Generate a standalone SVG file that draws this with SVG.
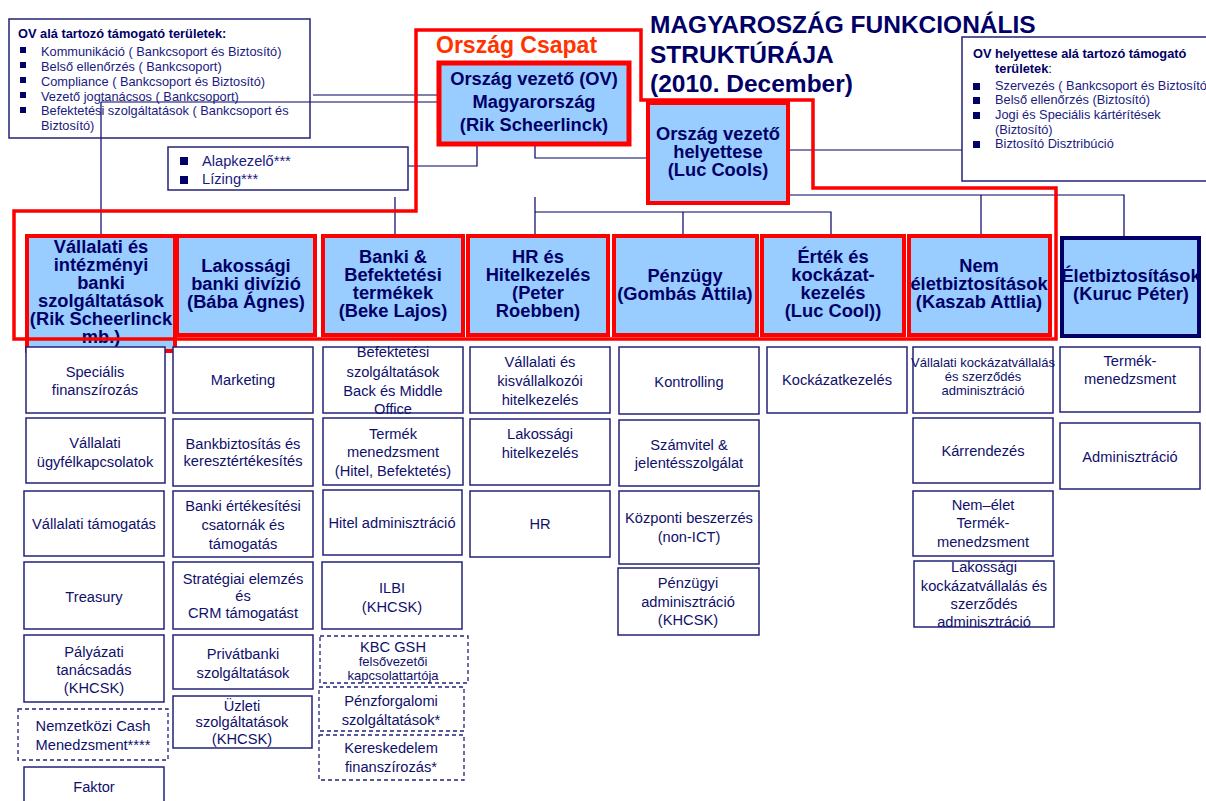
<svg xmlns="http://www.w3.org/2000/svg" width="1206" height="801" viewBox="0 0 1206 801">
<style>
.hb{fill:#99ccff;stroke:#ff0000;stroke-width:4}
.hbn{fill:#99ccff;stroke:#000066;stroke-width:4}
.ht{font-family:"Liberation Sans",Arial,sans-serif;font-weight:bold;font-size:18.3px;fill:#000066;text-anchor:middle}
.cell{fill:#ffffff;stroke:#23237a;stroke-width:1.5}
.dash{fill:#ffffff;stroke:#23237a;stroke-width:1.3;stroke-dasharray:4 3}
.ct{font-family:"Liberation Sans",Arial,sans-serif;font-size:14.67px;fill:#10106b;text-anchor:middle}
.cs{font-family:"Liberation Sans",Arial,sans-serif;font-size:13px;fill:#10106b;text-anchor:middle}
.ln{stroke:#000066;stroke-width:1.2;fill:none}
.box{fill:none;stroke:#23237a;stroke-width:1.5}
.st{font-family:"Liberation Sans",Arial,sans-serif;font-size:12.8px;fill:#1a1a80}
.stb{font-family:"Liberation Sans",Arial,sans-serif;font-size:12.8px;font-weight:bold;fill:#000066}
.bul{fill:#000066}
.title{font-family:"Liberation Sans",Arial,sans-serif;font-weight:bold;font-size:24.5px;fill:#000066}
</style>
<rect width="1206" height="801" fill="#ffffff"/>

<g id="connectors">
<path class="ln" d="M313,95 H438"/>
<path class="ln" d="M101,102 H438"/>
<path class="ln" d="M101,102 V236"/>
<path class="ln" d="M408,166 H477 V142"/>
<path class="ln" d="M535,144 V158 H648"/>
<path class="ln" d="M788,150 H962"/>
<path class="ln" d="M788,195 H1124 V237"/>
<path class="ln" d="M981,195 V236"/>
<path class="ln" d="M395,197 V236"/>
<path class="ln" d="M535,197 V236"/>
<path class="ln" d="M535,212 H831 V236"/>
<path class="ln" d="M683,212 V236"/>
</g>

<g id="title">
<text class="title" x="650" y="33">MAGYAROSZÁG FUNKCIONÁLIS</text>
<text class="title" x="650" y="63">STRUKTÚRÁJA</text>
<text class="title" x="650" y="92">(2010. December)</text>
</g>

<g id="ov-support">
<rect class="box" x="9" y="19" width="301" height="119"/>
<text class="stb" x="18" y="38">OV alá tartozó támogató területek:</text>
<rect class="bul" x="20" y="47" width="6" height="6"/>
<text class="st" x="41" y="56">Kommunikáció ( Bankcsoport és Biztosító)</text>
<rect class="bul" x="20" y="62" width="6" height="6"/>
<text class="st" x="41" y="71">Belső ellenőrzés ( Bankcsoport)</text>
<rect class="bul" x="20" y="77" width="6" height="6"/>
<text class="st" x="41" y="86">Compliance ( Bankcsoport és Biztosító)</text>
<rect class="bul" x="20" y="92" width="6" height="6"/>
<text class="st" x="41" y="101">Vezető jogtanácsos ( Bankcsoport)</text>
<rect class="bul" x="20" y="107" width="6" height="6"/>
<text class="st" x="41" y="115">Befektetési szolgáltatások ( Bankcsoport és</text>
<text class="st" x="41" y="130">Biztosító)</text>
</g>

<g id="alapkezelo">
<rect class="box" x="168" y="147" width="240" height="43"/>
<rect class="bul" x="180" y="157" width="8" height="8"/>
<text class="st" x="202" y="166" style="font-size:14.67px">Alapkezelő***</text>
<rect class="bul" x="180" y="176" width="8" height="8"/>
<text class="st" x="202" y="184" style="font-size:14.67px">Lízing***</text>
</g>

<g id="ovh-support">
<rect class="box" x="962" y="37" width="250" height="144"/>
<text class="stb" x="973" y="58">OV helyettese alá tartozó támogató</text>
<text class="stb" x="995" y="73">területek<tspan style="font-weight:normal">:</tspan></text>
<rect class="bul" x="973" y="83" width="7" height="7"/>
<text class="st" x="995" y="90">Szervezés ( Bankcsoport és Biztosító)</text>
<rect class="bul" x="973" y="97" width="7" height="7"/>
<text class="st" x="995" y="104">Belső ellenőrzés (Biztosító)</text>
<rect class="bul" x="973" y="112" width="7" height="7"/>
<text class="st" x="995" y="119">Jogi és Speciális kártérítések</text>
<text class="st" x="995" y="134">(Biztosító)</text>
<rect class="bul" x="973" y="141" width="7" height="7"/>
<text class="st" x="995" y="148">Biztosító Disztribúció</text>
</g>

<g id="ov">
<rect class="hb" x="439" y="63" width="190" height="81" style="stroke-width:5"/>
<text class="ht" x="534" y="85">Ország vezető (OV)</text>
<text class="ht" x="534" y="108">Magyarország</text>
<text class="ht" x="534" y="131">(Rik Scheerlinck)</text>
</g>

<g id="ov-deputy">
<rect class="hb" x="648" y="103" width="140" height="100"/>
<text class="ht" x="718" y="140">Ország vezető</text>
<text class="ht" x="718" y="158">helyettese</text>
<text class="ht" x="718" y="176">(Luc Cools)</text>
</g>

<g id="h1">
<rect class="hb" x="27" y="236" width="148" height="115"/>
<text class="ht" x="101" y="253">Vállalati és</text>
<text class="ht" x="101" y="271">intézményi</text>
<text class="ht" x="101" y="289">banki</text>
<text class="ht" x="101" y="307">szolgáltatások</text>
<text class="ht" x="101" y="325">(Rik Scheerlinck</text>
<text class="ht" x="101" y="343">mb.)</text>
</g>
<g id="h2">
<rect class="hb" x="177" y="236" width="138" height="99"/>
<text class="ht" x="246" y="272">Lakossági</text>
<text class="ht" x="246" y="290">banki divízió</text>
<text class="ht" x="246" y="308">(Bába Ágnes)</text>
</g>
<g id="h3">
<rect class="hb" x="323" y="236" width="140" height="99"/>
<text class="ht" x="393" y="263">Banki &amp;</text>
<text class="ht" x="393" y="281">Befektetési</text>
<text class="ht" x="393" y="299">termékek</text>
<text class="ht" x="393" y="317">(Beke Lajos)</text>
</g>
<g id="h4">
<rect class="hb" x="468" y="236" width="140" height="99"/>
<text class="ht" x="538" y="263">HR és</text>
<text class="ht" x="538" y="281">Hitelkezelés</text>
<text class="ht" x="538" y="299">(Peter</text>
<text class="ht" x="538" y="317">Roebben)</text>
</g>
<g id="h5">
<rect class="hb" x="614" y="236" width="143" height="99"/>
<text class="ht" x="685" y="282">Pénzügy</text>
<text class="ht" x="685" y="300">(Gombás Attila)</text>
</g>
<g id="h6">
<rect class="hb" x="762" y="236" width="142" height="99"/>
<text class="ht" x="833" y="263">Érték és</text>
<text class="ht" x="833" y="281">kockázat-</text>
<text class="ht" x="833" y="299">kezelés</text>
<text class="ht" x="833" y="317">(Luc Cool))</text>
</g>
<g id="h7">
<rect class="hb" x="909" y="236" width="141" height="99"/>
<text class="ht" x="979" y="272">Nem</text>
<text class="ht" x="979" y="290">életbiztosítások</text>
<text class="ht" x="979" y="308">(Kaszab Attlia)</text>
</g>
<g id="h8">
<rect class="hbn" x="1062" y="238" width="137" height="98"/>
<text class="ht" x="1131" y="282">Életbiztosítások</text>
<text class="ht" x="1131" y="300">(Kuruc Péter)</text>
</g>

<g id="orszag-csapat">
<path d="M416,30 H641 V100 H813 V188 H1056 V339 H14 V211 H416 Z" fill="none" stroke="#ff0000" stroke-width="3.5"/>
<text x="436" y="53" style="font-family:'Liberation Sans',Arial,sans-serif;font-weight:bold;font-size:23px;fill:#ff3300">Ország Csapat</text>
</g>

<g id="c1">
<g id="c1-1"><rect class="cell" x="26" y="347" width="139" height="66"/><text class="ct" x="95" y="377">Speciális</text><text class="ct" x="95" y="395">finanszírozás</text></g>
<g id="c1-2"><rect class="cell" x="26" y="418" width="139" height="65"/><text class="ct" x="95" y="448">Vállalati</text><text class="ct" x="95" y="467">ügyfélkapcsolatok</text></g>
<g id="c1-3"><rect class="cell" x="24" y="491" width="140" height="65"/><text class="ct" x="94" y="529">Vállalati támogatás</text></g>
<g id="c1-4"><rect class="cell" x="24" y="562" width="140" height="67"/><text class="ct" x="94" y="602">Treasury</text></g>
<g id="c1-5"><rect class="cell" x="24" y="635" width="140" height="67"/><text class="ct" x="94" y="657">Pályázati</text><text class="ct" x="94" y="675">tanácsadás</text><text class="ct" x="94" y="693">(KHCSK)</text></g>
<g id="c1-6"><rect class="dash" x="18" y="709" width="150" height="51"/><text class="ct" x="93" y="731">Nemzetközi  Cash</text><text class="ct" x="93" y="750">Menedzsment****</text></g>
<g id="c1-7"><rect class="cell" x="24" y="767" width="140" height="40"/><text class="ct" x="94" y="792">Faktor</text></g>
</g>

<g id="c2">
<g id="c2-1"><rect class="cell" x="173" y="347" width="140" height="66"/><text class="ct" x="243" y="385">Marketing</text></g>
<g id="c2-2"><rect class="cell" x="173" y="419" width="140" height="67"/><text class="ct" x="243" y="449">Bankbiztosítás és</text><text class="ct" x="243" y="466">keresztértékesítés</text></g>
<g id="c2-3"><rect class="cell" x="173" y="491" width="140" height="66"/><text class="ct" x="243" y="511">Banki értékesítési</text><text class="ct" x="243" y="530">csatornák és</text><text class="ct" x="243" y="549">támogatás</text></g>
<g id="c2-4"><rect class="cell" x="173" y="562" width="140" height="67"/><text class="ct" x="243" y="584">Stratégiai elemzés</text><text class="ct" x="243" y="601">és</text><text class="ct" x="243" y="618">CRM támogatást</text></g>
<g id="c2-5"><rect class="cell" x="173" y="635" width="140" height="54"/><text class="ct" x="243" y="659">Privátbanki</text><text class="ct" x="243" y="678">szolgáltatások</text></g>
<g id="c2-6"><rect class="cell" x="173" y="696" width="139" height="52"/><text class="ct" x="242" y="711">Üzleti</text><text class="ct" x="242" y="727">szolgáltatások</text><text class="ct" x="242" y="744">(KHCSK)</text></g>
</g>

<g id="c3">
<g id="c3-1"><rect class="cell" x="323" y="347" width="140" height="66"/><text class="ct" x="393" y="357">Befektetési</text><text class="ct" x="393" y="377">szolgáltatások</text><text class="ct" x="393" y="396">Back és Middle</text><text class="ct" x="393" y="414">Office</text></g>
<g id="c3-2"><rect class="cell" x="323" y="418" width="140" height="67"/><text class="ct" x="393" y="439">Termék</text><text class="ct" x="393" y="457">menedzsment</text><text class="ct" x="393" y="476">(Hitel, Befektetés)</text></g>
<g id="c3-3"><rect class="cell" x="323" y="490" width="139" height="65"/><text class="ct" x="392" y="528">Hitel adminisztráció</text></g>
<g id="c3-4"><rect class="cell" x="322" y="562" width="140" height="67"/><text class="ct" x="392" y="593">ILBI</text><text class="ct" x="392" y="612">(KHCSK)</text></g>
<g id="c3-5"><rect class="dash" x="320" y="636" width="148" height="47"/><text class="ct" x="393" y="652">KBC GSH</text><text class="cs" x="393" y="666">felsővezetői</text><text class="cs" x="393" y="680">kapcsolattartója</text></g>
<g id="c3-6"><rect class="dash" x="319" y="687" width="145" height="44"/><text class="ct" x="391" y="706">Pénzforgalomi</text><text class="ct" x="391" y="725">szolgáltatások*</text></g>
<g id="c3-7"><rect class="dash" x="319" y="735" width="145" height="45"/><text class="ct" x="391" y="753">Kereskedelem</text><text class="ct" x="391" y="772">finanszírozás*</text></g>
</g>

<g id="c4">
<g id="c4-1"><rect class="cell" x="470" y="347" width="140" height="66"/><text class="ct" x="540" y="367">Vállalati és</text><text class="ct" x="540" y="386">kisvállalkozói</text><text class="ct" x="540" y="405">hitelkezelés</text></g>
<g id="c4-2"><rect class="cell" x="470" y="419" width="140" height="66"/><text class="ct" x="540" y="439">Lakossági</text><text class="ct" x="540" y="458">hitelkezelés</text></g>
<g id="c4-3"><rect class="cell" x="470" y="491" width="140" height="66"/><text class="ct" x="540" y="529">HR</text></g>
</g>

<g id="c5">
<g id="c5-1"><rect class="cell" x="619" y="347" width="140" height="67"/><text class="ct" x="689" y="387">Kontrolling</text></g>
<g id="c5-2"><rect class="cell" x="619" y="420" width="140" height="66"/><text class="ct" x="689" y="450">Számvitel &amp;</text><text class="ct" x="689" y="468">jelentésszolgálat</text></g>
<g id="c5-3"><rect class="cell" x="619" y="491" width="140" height="73"/><text class="ct" x="689" y="523">Központi beszerzés</text><text class="ct" x="689" y="542">(non-ICT)</text></g>
<g id="c5-4"><rect class="cell" x="618" y="568" width="141" height="67"/><text class="ct" x="688" y="588">Pénzügyi</text><text class="ct" x="688" y="607">adminisztráció</text><text class="ct" x="688" y="625">(KHCSK)</text></g>
</g>

<g id="c6">
<g id="c6-1"><rect class="cell" x="767" y="347" width="140" height="66"/><text class="ct" x="837" y="385">Kockázatkezelés</text></g>
</g>

<g id="c7">
<g id="c7-1"><rect class="cell" x="913" y="347" width="140" height="66"/><text class="cs" x="983" y="367">Vállalati kockázatvállalás</text><text class="cs" x="983" y="381">és szerződés</text><text class="cs" x="983" y="395">adminisztráció</text></g>
<g id="c7-2"><rect class="cell" x="913" y="418" width="140" height="65"/><text class="ct" x="983" y="456">Kárrendezés</text></g>
<g id="c7-3"><rect class="cell" x="913" y="491" width="140" height="65"/><text class="ct" x="983" y="510">Nem–élet</text><text class="ct" x="983" y="528">Termék-</text><text class="ct" x="983" y="547">menedzsment</text></g>
<g id="c7-4"><rect class="cell" x="914" y="561" width="140" height="66"/><text class="ct" x="984" y="572">Lakossági</text><text class="ct" x="984" y="591">kockázatvállalás és</text><text class="ct" x="984" y="609">szerződés</text><text class="ct" x="984" y="627">adminisztráció</text></g>
</g>

<g id="c8">
<g id="c8-1"><rect class="cell" x="1060" y="347" width="140" height="65"/><text class="ct" x="1130" y="366">Termék-</text><text class="ct" x="1130" y="384">menedzsment</text></g>
<g id="c8-2"><rect class="cell" x="1060" y="423" width="140" height="66"/><text class="ct" x="1130" y="462">Adminisztráció</text></g>
</g>
</svg>
